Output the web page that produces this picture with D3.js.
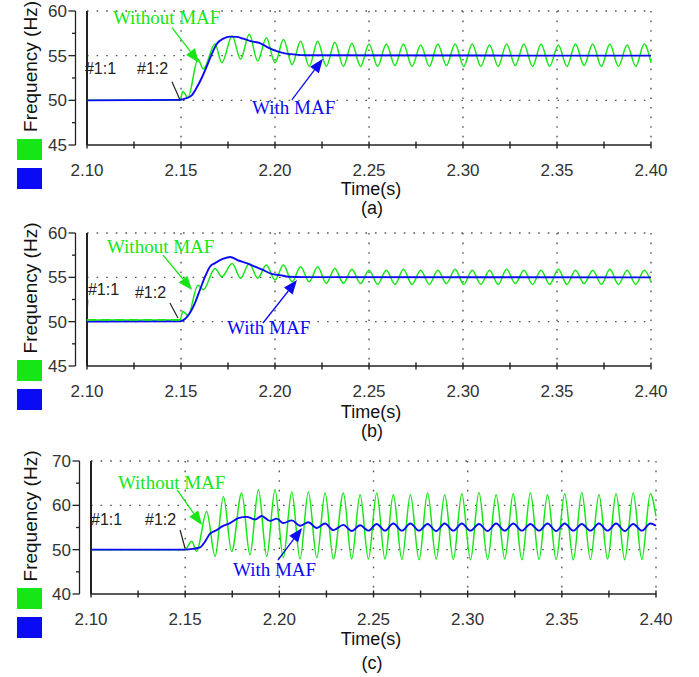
<!DOCTYPE html>
<html>
<head>
<meta charset="utf-8">
<script src="https://cdn.jsdelivr.net/npm/d3@7"></script>
<style>
body { margin: 0; background: #fff; }
svg { display: block; }
</style>
</head>
<body>
<svg id="chart" width="699" height="677"></svg>
<script>
// ---- axis values ----
const xTicks = [2.10, 2.15, 2.20, 2.25, 2.30, 2.35, 2.40];
const xTickLabels = ["2.10", "2.15", "2.20", "2.25", "2.30", "2.35", "2.40"];
const xMinor = [2.125, 2.175, 2.225, 2.275, 2.325, 2.375];
const yTicksAB = [45, 50, 55, 60];
const yMinorAB = [47.5, 52.5, 57.5];
const yTicksC = [40, 50, 60, 70];
const yMinorC = [45, 55, 65];
const panelLabels = ["(a)", "(b)", "(c)"];

// ---- (a) and (b): green = without MAF, read peak / trough points ----
const tGreenAB = [2.1000, 2.1495, 2.1510, 2.1537, 2.1590, 2.1619, 2.1681, 2.1717, 2.1772, 2.1817,
  2.1863, 2.1908, 2.1954, 2.2000, 2.2045, 2.2091, 2.2136, 2.2182, 2.2227, 2.2273,
  2.2318, 2.2364, 2.2409, 2.2455, 2.2500];
const tSteadyAB = [2.2546, 2.2592, 2.2638, 2.2683, 2.2729, 2.2775, 2.2821, 2.2866, 2.2912, 2.2958,
  2.3004, 2.3049, 2.3095, 2.3141, 2.3187, 2.3232, 2.3278, 2.3324, 2.3370, 2.3415,
  2.3461, 2.3507, 2.3553, 2.3598, 2.3644, 2.3690, 2.3736, 2.3781, 2.3827, 2.3873,
  2.3919, 2.3964, 2.4000];

const fGreenA = [50.0, 50.0, 51.0, 50.3, 54.6, 53.5, 56.3, 54.2, 57.2, 54.6,
  57.4, 54.4, 57.0, 54.2, 56.8, 54.0, 56.6, 53.8, 56.6, 53.8,
  56.5, 53.8, 56.4, 53.8, 56.3];
const fGreenASteady = [53.8, 56.3, 53.9, 56.3, 53.8, 56.2, 53.8, 56.3, 53.9, 56.3,
  53.8, 56.3, 53.8, 56.2, 53.8, 56.3, 53.9, 56.3, 53.8, 56.3,
  53.8, 56.2, 53.8, 56.3, 53.9, 56.3, 53.8, 56.3, 53.8, 56.2,
  53.8, 56.3, 54.2];

const fGreenB = [50.2, 50.2, 51.15, 50.7, 54.1, 53.6, 56.0, 55.07, 56.57, 54.9,
  56.57, 54.9, 56.38, 54.7, 56.38, 54.5, 56.2, 54.5, 56.2, 54.33,
  56.0, 54.33, 55.9, 54.3, 55.8];
const fGreenBSteady = [54.2, 55.8, 54.2, 55.9, 54.2, 55.8, 54.2, 55.8, 54.3, 55.9,
  54.2, 55.8, 54.2, 55.8, 54.2, 55.9, 54.3, 55.8, 54.2, 55.8,
  54.2, 55.9, 54.2, 55.8, 54.3, 55.8, 54.2, 55.9, 54.2, 55.8,
  54.2, 55.8, 54.5];

// blue = with MAF
const tBlueA = [2.1000, 2.1495, 2.1521, 2.1557, 2.1583, 2.1610, 2.1637, 2.1663, 2.1690, 2.1725,
  2.1761, 2.1796, 2.1831, 2.1876, 2.1920, 2.1964, 2.2009, 2.2053, 2.2097, 2.2160, 2.4000];
const fBlueA = [50.0, 50.05, 50.2, 50.56, 51.4, 52.5, 53.8, 55.15, 56.3, 56.9,
  57.13, 57.1, 56.9, 56.6, 56.4, 55.9, 55.5, 55.26, 55.15, 55.04, 55.0];

const tBlueB = [2.1000, 2.1495, 2.1521, 2.1548, 2.1574, 2.1601, 2.1628, 2.1654, 2.1681, 2.1725,
  2.1761, 2.1805, 2.1849, 2.1894, 2.1938, 2.1982, 2.2027, 2.2071, 2.2160, 2.4000];
const fBlueB = [50.0, 50.03, 50.3, 51.0, 52.1, 53.6, 55.07, 56.2, 56.6, 57.1,
  57.3, 56.9, 56.6, 56.2, 55.8, 55.4, 55.25, 55.07, 55.02, 55.0];

// ---- (c) ----
const tGreenC = [2.1000, 2.1499, 2.1535, 2.1561, 2.1614, 2.1659, 2.1703, 2.1747, 2.1800, 2.1844,
  2.1889, 2.1933, 2.1977, 2.2021, 2.2066, 2.2110, 2.2154, 2.2199, 2.2243, 2.2287,
  2.2340, 2.2384, 2.2429, 2.2473, 2.2517, 2.2561, 2.2605];
const fGreenC = [50.0, 50.0, 51.9, 49.6, 58.6, 48.5, 62.0, 49.6, 62.8, 48.8,
  63.5, 48.5, 63.5, 48.2, 63.0, 47.9, 63.0, 48.2, 62.8, 47.9,
  62.8, 47.9, 62.4, 47.9, 62.8, 47.9, 62.4];
const tSteadyC = [2.2651, 2.2696, 2.2742, 2.2787, 2.2833, 2.2878, 2.2924, 2.2969, 2.3015, 2.3060,
  2.3106, 2.3151, 2.3197, 2.3242, 2.3288, 2.3333, 2.3379, 2.3424, 2.3470, 2.3515,
  2.3561, 2.3606, 2.3652, 2.3697, 2.3743, 2.3788, 2.3834, 2.3879, 2.3925, 2.3970, 2.4000];
const fGreenCSteady = [47.8, 62.4, 47.7, 62.8, 47.9, 62.4, 47.8, 62.6, 47.7, 62.9,
  47.8, 62.4, 47.9, 62.6, 47.7, 62.8, 47.8, 62.4, 47.8, 62.6,
  47.7, 62.9, 47.8, 62.4, 47.9, 62.6, 47.7, 62.8, 47.8, 62.6, 57.5];

const tBlueC = [2.1000, 2.1499, 2.1543, 2.1579, 2.1605, 2.1632, 2.1667, 2.1694, 2.1738, 2.1782,
  2.1827, 2.1871, 2.1906, 2.1951, 2.1986, 2.2021, 2.2066, 2.2110, 2.2154, 2.2199,
  2.2243, 2.2287, 2.2340, 2.2384, 2.2429, 2.2473, 2.2517, 2.2561, 2.2605];
const fBlueC = [50.0, 50.0, 50.2, 50.5, 51.8, 53.6, 54.4, 55.2, 56.0, 57.1,
  57.4, 56.8, 57.6, 56.5, 57.0, 56.0, 56.6, 55.4, 56.2, 54.9,
  55.9, 54.4, 55.6, 54.2, 55.5, 54.3, 55.8, 54.3, 55.9];
const fBlueCSteady = [54.3, 55.9, 54.3, 55.8, 54.2, 55.9, 54.3, 55.9, 54.3, 55.8,
  54.2, 55.9, 54.3, 55.9, 54.3, 55.8, 54.3, 55.9, 54.2, 55.9,
  54.3, 55.8, 54.3, 55.9, 54.3, 55.9, 54.2, 55.8, 54.3, 55.9, 55.4];

// annotation anchor points, in (time, Hz)
const annotA = { noTxt: [2.1138, 58.58], noArrow: [[2.1452, 58.13], [2.1596, 54.20]],
  withTxt: [2.1878, 48.48], withArrow: [[2.2090, 50.05], [2.2255, 54.65]],
  c1: [2.0989, 52.97], c2: [2.1266, 52.97], cur: [[2.1452, 52.07], [2.1495, 50.05]] };
const annotB = { noTxt: [2.1106, 57.74], noArrow: [[2.1404, 57.51], [2.1559, 53.57]],
  withTxt: [2.1745, 48.61], withArrow: [[2.1936, 49.85], [2.2117, 54.70]],
  c1: [2.1005, 53.0], c2: [2.1255, 52.67], cur: [[2.1441, 52.10], [2.1484, 50.41]],
  cur1: [[2.1003, 52.44], [2.1000, 50.75]] };
const annotC = { noTxt: [2.1143, 63.69], noArrow: [[2.1457, 63.46], [2.1589, 55.57]],
  withTxt: [2.1754, 44.06], withArrow: [[2.1993, 47.67], [2.2121, 54.89]],
  c1: [2.1000, 55.57], c2: [2.1287, 55.57], cur: [[2.1473, 54.44], [2.1499, 50.38]] };

// ---- layout ----
const GREEN = "#16e616", BLUE = "#0a0af5";
const sans = "'Liberation Sans', Arial, sans-serif";
const serif = "'Liberation Serif', 'Times New Roman', serif";

const panels = [
  { x0: 87, x1: 651, yTop: 11, yBot: 145, yDom: [45, 60], yTicks: yTicksAB, yMinor: yMinorAB,
    green: d3.zip(tGreenAB.concat(tSteadyAB), fGreenA.concat(fGreenASteady)),
    blue: d3.zip(tBlueA, fBlueA), ann: annotA, timeY: 195, capY: 213.5 },
  { x0: 87, x1: 651, yTop: 233, yBot: 366, yDom: [45, 60], yTicks: yTicksAB, yMinor: yMinorAB,
    green: d3.zip(tGreenAB.concat(tSteadyAB), fGreenB.concat(fGreenBSteady)),
    blue: d3.zip(tBlueB, fBlueB), ann: annotB, timeY: 418, capY: 436.5, dashedStart: true },
  { x0: 91, x1: 656, yTop: 461, yBot: 594, yDom: [40, 70], yTicks: yTicksC, yMinor: yMinorC,
    green: d3.zip(tGreenC.concat(tSteadyC), fGreenC.concat(fGreenCSteady)),
    blue: d3.zip(tBlueC.concat(tSteadyC), fBlueC.concat(fBlueCSteady)), ann: annotC, timeY: 645, capY: 669 }
];

const svg = d3.select("#chart");

panels.forEach((p, i) => {
  const x = d3.scaleLinear().domain([2.10, 2.40]).range([p.x0, p.x1]);
  const y = d3.scaleLinear().domain(p.yDom).range([p.yBot, p.yTop]);
  const g = svg.append("g");
  const axX = p.x0 - 11.5;

  // dotted grid
  const dots = { stroke: "#555", "stroke-width": 1.4, "stroke-dasharray": "1.6,8" };
  p.yTicks.slice(1).forEach(v => {
    const l = g.append("line").attr("x1", p.x0).attr("x2", p.x1).attr("y1", y(v)).attr("y2", y(v));
    Object.entries(dots).forEach(([k, s]) => l.attr(k, s));
  });
  xTicks.slice(1).forEach(v => {
    const l = g.append("line").attr("x1", x(v)).attr("x2", x(v)).attr("y1", p.yTop).attr("y2", p.yBot);
    Object.entries(dots).forEach(([k, s]) => l.attr(k, s));
  });

  // left solid border (cursor #1:1)
  g.append("line").attr("x1", p.x0).attr("x2", p.x0).attr("y1", p.yTop).attr("y2", p.yBot)
    .attr("stroke", "#222").attr("stroke-width", 2);

  // y axis
  g.append("line").attr("x1", axX).attr("x2", axX).attr("y1", p.yTop).attr("y2", p.yBot)
    .attr("stroke", "#222").attr("stroke-width", 1.3);
  p.yTicks.forEach(v => {
    g.append("line").attr("x1", axX - 7).attr("x2", axX).attr("y1", y(v)).attr("y2", y(v))
      .attr("stroke", "#222").attr("stroke-width", 1.3);
    g.append("text").attr("x", axX - 8.5).attr("y", y(v)).attr("dy", "0.36em")
      .attr("text-anchor", "end").attr("font-family", sans).attr("font-size", 17)
      .attr("fill", "#333").text(v);
  });
  p.yMinor.forEach(v => {
    g.append("line").attr("x1", axX - 3.5).attr("x2", axX).attr("y1", y(v)).attr("y2", y(v))
      .attr("stroke", "#222").attr("stroke-width", 1.3);
  });

  // x axis
  g.append("line").attr("x1", p.x0).attr("x2", p.x1).attr("y1", p.yBot).attr("y2", p.yBot)
    .attr("stroke", "#222").attr("stroke-width", 1.5);
  xTicks.concat(xMinor).forEach(v => {
    g.append("line").attr("x1", x(v)).attr("x2", x(v)).attr("y1", p.yBot - 3.5).attr("y2", p.yBot + 3.5)
      .attr("stroke", "#222").attr("stroke-width", 1.4);
  });
  xTicks.forEach((v, j) => {
    g.append("text").attr("x", x(v)).attr("y", p.yBot + 30.5).attr("text-anchor", "middle")
      .attr("font-family", sans).attr("font-size", 17).attr("fill", "#333").text(xTickLabels[j]);
  });

  // axis titles
  const midY = (p.yTop + p.yBot) / 2 - 11.5;
  g.append("text").attr("transform", `translate(37,${midY}) rotate(-90)`).attr("text-anchor", "middle")
    .attr("font-family", sans).attr("font-size", 19).attr("fill", "#111").text("Frequency (Hz)");
  g.append("text").attr("x", 371).attr("y", p.timeY).attr("text-anchor", "middle")
    .attr("font-family", sans).attr("font-size", 18).attr("fill", "#111").text("Time(s)");
  g.append("text").attr("x", 372).attr("y", p.capY).attr("text-anchor", "middle")
    .attr("font-family", sans).attr("font-size", 18).attr("fill", "#111").text(panelLabels[i]);

  // legend swatches
  const sw = p.yBot - 6;
  g.append("rect").attr("x", 17).attr("y", sw).attr("width", 25).attr("height", 21).attr("fill", GREEN);
  g.append("rect").attr("x", 17).attr("y", sw + 29).attr("width", 25).attr("height", 21).attr("fill", BLUE);

  // curves
  const line = d3.line().x(d => x(d[0])).y(d => y(d[1])).curve(d3.curveMonotoneX);
  g.append("path").attr("d", line(p.green)).attr("fill", "none")
    .attr("stroke", GREEN).attr("stroke-width", 1.5);
  g.append("path").attr("d", line(p.blue)).attr("fill", "none")
    .attr("stroke", BLUE).attr("stroke-width", 1.9);
  if (p.dashedStart) {
    g.append("path").attr("d", line(p.green.slice(0, 2))).attr("fill", "none")
      .attr("stroke", GREEN).attr("stroke-width", 1.6).attr("stroke-dasharray", "9,5");
  }

  // annotations
  const a = p.ann;
  const arrow = (pts, col) => {
    const [x1, y1] = [x(pts[0][0]), y(pts[0][1])];
    const [x2, y2] = [x(pts[1][0]), y(pts[1][1])];
    const ang = Math.atan2(y2 - y1, x2 - x1);
    const L = 14, W = 5.5;
    const bx = x2 - L * Math.cos(ang), by = y2 - L * Math.sin(ang);
    g.append("line").attr("x1", x1).attr("y1", y1).attr("x2", bx).attr("y2", by)
      .attr("stroke", col).attr("stroke-width", 1.3);
    const px = -Math.sin(ang) * W, py = Math.cos(ang) * W;
    g.append("path").attr("d", `M${x2},${y2}L${bx + px},${by + py}L${bx - px},${by - py}Z`).attr("fill", col);
  };
  g.append("text").attr("x", x(a.noTxt[0])).attr("y", y(a.noTxt[1])).attr("font-family", serif)
    .attr("font-size", 19).attr("fill", GREEN).text("Without MAF");
  arrow(a.noArrow, GREEN);
  g.append("text").attr("x", x(a.withTxt[0])).attr("y", y(a.withTxt[1])).attr("font-family", serif)
    .attr("font-size", 19).attr("fill", BLUE).text("With MAF");
  arrow(a.withArrow, BLUE);
  g.append("text").attr("x", x(a.c1[0])).attr("y", y(a.c1[1])).attr("font-family", sans)
    .attr("font-size", 16).attr("fill", "#222").text("#1:1");
  g.append("text").attr("x", x(a.c2[0])).attr("y", y(a.c2[1])).attr("font-family", sans)
    .attr("font-size", 16).attr("fill", "#222").text("#1:2");
  g.append("line").attr("x1", x(a.cur[0][0])).attr("y1", y(a.cur[0][1]))
    .attr("x2", x(a.cur[1][0])).attr("y2", y(a.cur[1][1])).attr("stroke", "#222").attr("stroke-width", 1.2);
  if (a.cur1) {
    g.append("line").attr("x1", x(a.cur1[0][0])).attr("y1", y(a.cur1[0][1]))
      .attr("x2", x(a.cur1[1][0])).attr("y2", y(a.cur1[1][1])).attr("stroke", "#222").attr("stroke-width", 1.5);
  }
});
</script>
</body>
</html>
